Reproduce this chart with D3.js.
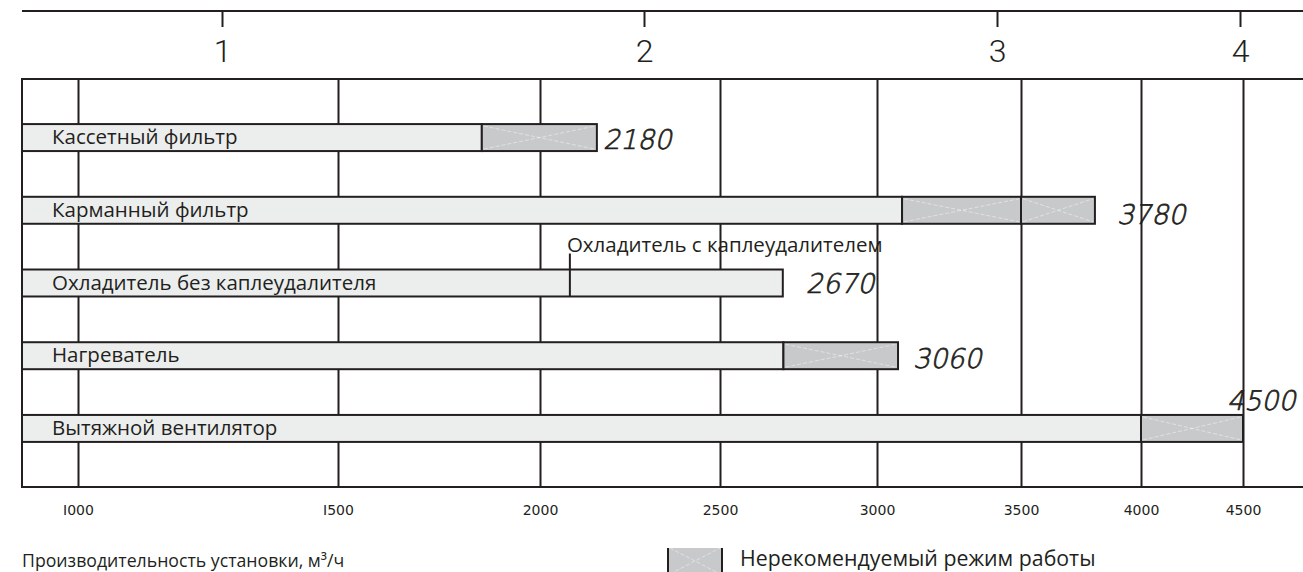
<!DOCTYPE html>
<html>
<head>
<meta charset="utf-8">
<script src="https://cdn.jsdelivr.net/npm/d3@7/dist/d3.min.js"></script>
<style>
  html, body { margin: 0; padding: 0; background: #fff; }
  svg { display: block; }
  .cat { font-family: "Open Sans", "Noto Sans", sans-serif; font-size: 20.5px; fill: #231f20; }
  .num { font-family: "DejaVu Sans", sans-serif; font-weight: 200; font-size: 27px; fill: #231f20; stroke: #231f20; stroke-width: 0.7px; }
</style>
</head>
<body>
<svg id="chart" width="1303" height="572"></svg>
<script>
// ---- data ----
const categories = [
  "Кассетный фильтр",
  "Карманный фильтр",
  "Охладитель без каплеудалителя",
  "Нагреватель",
  "Вытяжной вентилятор"
];
const recommendedEnd = [1856, 3087, 2700, 2702, 4000];   // end of normal range, m3/h
const limitEnd       = [2158, 3808, 2700, 3073, 4500];   // end of bar (max), m3/h
const greyDividers   = [[], [3500], [], [], []];         // splits inside the grey part
const limitLabels    = ["2180", "3780", "2670", "3060", "4500"];
const coolerSplit    = 2083;                             // cooler with droplet eliminator
const coolerSplitLabel = "Охладитель с каплеудалителем";
const coolerRow      = 2;
const bottomTicks    = [1000, 1500, 2000, 2500, 3000, 3500, 4000, 4500];
const bottomTickLabels = ["I000", "I500", "2000", "2500", "3000", "3500", "4000", "4500"];
const topTicks       = [1, 2, 3, 4];
const xTitle = "Производительность установки, м³/ч";
const legendLabel = "Нерекомендуемый режим работы";

// ---- layout ----
const gLeft = 22, gRight = 1303, gTop = 79, gBottom = 487;
const bottomRange = [78, 338, 540, 720, 877, 1021, 1141, 1243];
const topRange = [222, 644, 997, 1240];
const labelDx = [6, 22, 23, 15, -16];
const labelDy = [-2, 0, -3, -1, -32];
const ink = "#231f20", light = "#eceeed", grey = "#c8c9cb";

const svg = d3.select("#chart");

const x = d3.scaleLinear().domain(bottomTicks).range(bottomRange);
const xTop = d3.scaleLinear().domain(topTicks).range(topRange);
const y = d3.scaleBand().domain(categories).range([gTop, gBottom])
  .paddingInner(0.629).paddingOuter(0.62);

// top scale
svg.append("line").attr("x1", gLeft).attr("x2", gRight).attr("y1", 11).attr("y2", 11)
  .attr("stroke", ink).attr("stroke-width", 2);
const topAxis = svg.append("g").attr("transform", "translate(0,11)")
  .call(d3.axisBottom(xTop).tickValues(topTicks).tickSize(16).tickPadding(12).tickFormat(d3.format("d")));
topAxis.select(".domain").remove();
topAxis.selectAll(".tick line").attr("stroke", ink).attr("stroke-width", 2);
topAxis.selectAll(".tick text")
  .attr("font-family", "Roboto, 'Liberation Sans', sans-serif").attr("font-weight", 300)
  .attr("font-size", 32).attr("fill", ink);

// grid verticals
const grid = svg.append("g").attr("transform", `translate(0,${gBottom})`)
  .call(d3.axisBottom(x).tickValues(bottomTicks).tickSize(-(gBottom - gTop)).tickPadding(18)
    .tickFormat((d, i) => bottomTickLabels[i]));
grid.select(".domain").remove();
grid.selectAll(".tick line").attr("stroke", ink).attr("stroke-width", 2);
grid.selectAll(".tick text").attr("font-family", "'DejaVu Sans', sans-serif")
  .attr("font-size", 14).attr("fill", ink);

// frame
svg.append("line").attr("x1", gLeft).attr("x2", gRight).attr("y1", gTop).attr("y2", gTop)
  .attr("stroke", ink).attr("stroke-width", 2);
svg.append("line").attr("x1", gLeft).attr("x2", gRight).attr("y1", gBottom).attr("y2", gBottom)
  .attr("stroke", ink).attr("stroke-width", 2);
svg.append("line").attr("x1", gLeft).attr("x2", gLeft).attr("y1", gTop - 1).attr("y2", gBottom + 1)
  .attr("stroke", ink).attr("stroke-width", 2);

// cross pattern cell
function cross(g, x0, x1, y0, y1) {
  [[y0, y1], [y1, y0]].forEach(([a, b]) =>
    g.append("line").attr("x1", x0 + 2).attr("y1", a).attr("x2", x1 - 2).attr("y2", b)
      .attr("stroke", "#fff").attr("stroke-opacity", 0.55).attr("stroke-width", 0.8)
      .attr("stroke-dasharray", "4,2"));
}
function greyCell(g, x0, x1, y0, h) {
  g.append("rect").attr("x", x0).attr("y", y0).attr("width", x1 - x0).attr("height", h)
    .attr("fill", grey).attr("stroke", ink).attr("stroke-width", 2);
  cross(g, x0, x1, y0 + 2, y0 + h - 2);
}

const bars = svg.append("g");
categories.forEach((c, i) => {
  const y0 = y(c), h = y.bandwidth();
  const g = bars.append("g");
  g.append("rect").attr("x", gLeft).attr("y", y0).attr("width", x(recommendedEnd[i]) - gLeft).attr("height", h)
    .attr("fill", light).attr("stroke", ink).attr("stroke-width", 2);
  if (limitEnd[i] > recommendedEnd[i]) {
    const cuts = [recommendedEnd[i], ...greyDividers[i], limitEnd[i]];
    for (let k = 0; k < cuts.length - 1; k++) greyCell(g, x(cuts[k]), x(cuts[k + 1]), y0, h);
  }
  g.append("text").attr("class", "cat").attr("x", 52).attr("y", y0 + h / 2 + 6.5).text(c);
  const lx = x(limitEnd[i]) + labelDx[i], ly = y0 + h + labelDy[i];
  g.append("text").attr("class", "num")
    .attr("transform", `translate(${lx},${ly}) skewX(-13)`).text(limitLabels[i]);
});

// cooler with droplet eliminator marker
{
  const c = categories[coolerRow];
  const xs = x(coolerSplit);
  svg.append("line").attr("x1", xs).attr("x2", xs).attr("y1", y(c) - 16).attr("y2", y(c) + y.bandwidth())
    .attr("stroke", ink).attr("stroke-width", 2);
  svg.append("text").attr("class", "cat").attr("x", xs - 3).attr("y", y(c) - 18).text(coolerSplitLabel);
}

// x title
svg.append("text").attr("class", "cat").style("font-size", "17.7px").attr("x", 22).attr("y", 567).text(xTitle);

// legend
{
  const lx0 = 668, lx1 = 722, ly0 = 548, ly1 = 574;
  svg.append("rect").attr("x", lx0).attr("y", ly0).attr("width", lx1 - lx0).attr("height", ly1 - ly0).attr("fill", grey);
  cross(svg, lx0, lx1, ly0, ly1);
  [lx0, lx1].forEach(v => svg.append("line").attr("x1", v).attr("x2", v).attr("y1", ly0).attr("y2", ly1)
    .attr("stroke", ink).attr("stroke-width", 2));
  svg.append("text").attr("class", "cat").style("font-size", "21.3px").attr("x", 740).attr("y", 566).text(legendLabel);
}
</script>
</body>
</html>
